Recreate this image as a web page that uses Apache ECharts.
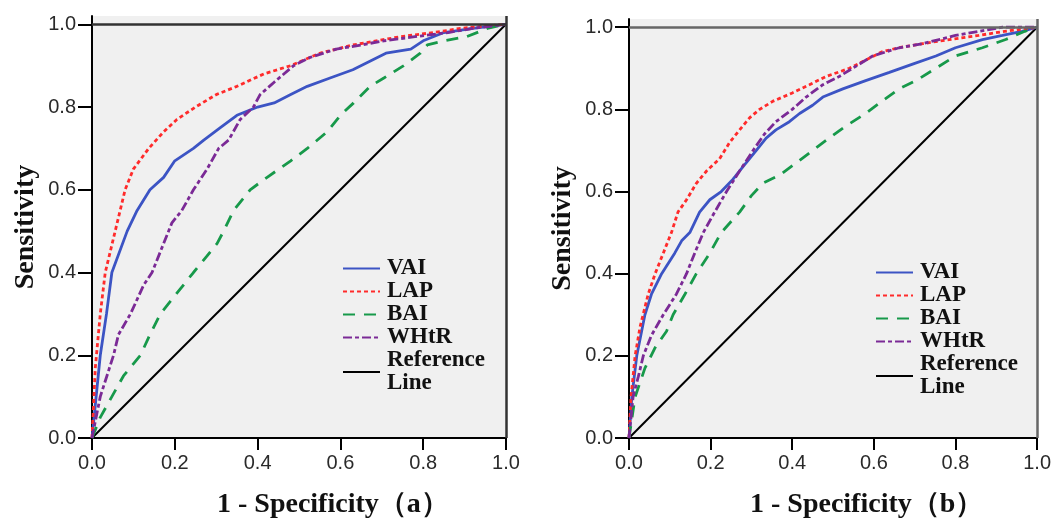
<!DOCTYPE html>
<html>
<head>
<meta charset="utf-8">
<script src="https://cdn.jsdelivr.net/npm/echarts@6/dist/echarts.min.js"></script>
<style>
html,body{margin:0;padding:0;background:#fff;}
#main{width:1054px;height:521px;}
</style>
</head>
<body>
<div id="main"></div>
<script>
// ---- data (1 - specificity, sensitivity) ----
const seriesNames = ['VAI', 'LAP', 'BAI', 'WHtR', 'Reference Line'];
const tickValues = [0, 0.2, 0.4, 0.6, 0.8, 1.0];
const panelTitles = ['1 - Specificity（a）', '1 - Specificity（b）'];
const yTitle = 'Sensitivity';

const vaiA = [[0,0],[0.01,0.1],[0.02,0.2],[0.035,0.3],[0.048,0.4],[0.085,0.5],[0.109,0.55],[0.14,0.6],[0.173,0.63],[0.2,0.67],[0.245,0.7],[0.27,0.72],[0.31,0.75],[0.35,0.78],[0.4,0.8],[0.44,0.81],[0.48,0.83],[0.52,0.85],[0.575,0.87],[0.63,0.89],[0.67,0.91],[0.71,0.93],[0.77,0.94],[0.8,0.96],[0.85,0.98],[0.92,0.99],[1,1]];
const lapA = [[0,0],[0.008,0.17],[0.02,0.3],[0.032,0.4],[0.056,0.5],[0.08,0.6],[0.1,0.65],[0.137,0.7],[0.173,0.74],[0.205,0.77],[0.25,0.8],[0.3,0.83],[0.35,0.85],[0.415,0.88],[0.48,0.9],[0.55,0.93],[0.63,0.95],[0.745,0.97],[0.825,0.98],[0.89,0.99],[1,1]];
const baiA = [[0,0],[0.02,0.05],[0.048,0.1],[0.076,0.15],[0.117,0.2],[0.14,0.25],[0.165,0.3],[0.205,0.35],[0.245,0.4],[0.278,0.44],[0.302,0.47],[0.318,0.5],[0.342,0.55],[0.382,0.6],[0.423,0.63],[0.48,0.67],[0.52,0.7],[0.568,0.74],[0.6,0.78],[0.632,0.81],[0.672,0.85],[0.705,0.87],[0.753,0.9],[0.793,0.93],[0.81,0.95],[0.85,0.96],[0.905,0.97],[0.955,0.99],[1,1]];
const whtrA = [[0,0],[0.02,0.1],[0.052,0.2],[0.064,0.25],[0.093,0.3],[0.125,0.37],[0.145,0.4],[0.165,0.45],[0.193,0.52],[0.217,0.55],[0.245,0.6],[0.278,0.65],[0.306,0.7],[0.33,0.72],[0.358,0.77],[0.39,0.8],[0.406,0.83],[0.44,0.86],[0.487,0.9],[0.527,0.92],[0.59,0.94],[0.65,0.95],[0.705,0.96],[0.78,0.97],[0.86,0.98],[0.92,0.99],[1,1]];

const vaiB = [[0,0],[0.007,0.1],[0.019,0.2],[0.039,0.3],[0.055,0.35],[0.08,0.4],[0.112,0.45],[0.129,0.48],[0.149,0.5],[0.173,0.55],[0.198,0.58],[0.226,0.6],[0.255,0.63],[0.279,0.66],[0.312,0.7],[0.336,0.73],[0.36,0.75],[0.393,0.77],[0.418,0.79],[0.45,0.81],[0.475,0.83],[0.524,0.85],[0.58,0.87],[0.638,0.89],[0.695,0.91],[0.752,0.93],[0.8,0.95],[0.866,0.97],[0.915,0.98],[0.963,0.99],[1,1]];
const lapB = [[0,0],[0.005,0.1],[0.015,0.2],[0.027,0.27],[0.047,0.35],[0.064,0.4],[0.084,0.45],[0.104,0.5],[0.12,0.55],[0.141,0.58],[0.165,0.62],[0.19,0.65],[0.222,0.68],[0.247,0.72],[0.271,0.75],[0.296,0.78],[0.32,0.8],[0.353,0.82],[0.4,0.84],[0.442,0.86],[0.483,0.88],[0.54,0.9],[0.58,0.92],[0.62,0.94],[0.66,0.95],[0.72,0.96],[0.785,0.97],[0.857,0.98],[0.92,0.99],[1,1]];
const baiB = [[0,0],[0.015,0.1],[0.039,0.17],[0.064,0.22],[0.092,0.26],[0.108,0.3],[0.137,0.35],[0.165,0.4],[0.198,0.45],[0.226,0.5],[0.271,0.55],[0.3,0.59],[0.328,0.62],[0.369,0.64],[0.41,0.67],[0.45,0.7],[0.49,0.73],[0.532,0.76],[0.58,0.79],[0.62,0.82],[0.662,0.85],[0.703,0.87],[0.752,0.9],[0.8,0.93],[0.866,0.95],[0.923,0.97],[0.97,0.99],[1,1]];
const whtrB = [[0,0],[0.01,0.1],[0.023,0.15],[0.035,0.2],[0.055,0.25],[0.084,0.3],[0.116,0.35],[0.141,0.4],[0.161,0.45],[0.182,0.5],[0.21,0.55],[0.239,0.6],[0.271,0.65],[0.304,0.7],[0.332,0.74],[0.36,0.77],[0.4,0.8],[0.434,0.83],[0.475,0.86],[0.515,0.88],[0.548,0.9],[0.597,0.93],[0.662,0.95],[0.72,0.96],[0.76,0.97],[0.8,0.98],[0.857,0.99],[0.915,1.0],[1,1]];

const refLine = [[0,0],[1,1]];

// ---- styles ----
const styles = {
  'VAI': {color:'#3c54c4', width:2.8, type:'solid'},
  'LAP': {color:'#ff2b2b', width:2.8, type:[4,3]},
  'BAI': {color:'#17994a', width:2.8, type:[12,9]},
  'WHtR': {color:'#7b2a96', width:2.8, type:[9,3,4,3]},
  'Reference Line': {color:'#000000', width:2, type:'solid'}
};

const panelData = [
  {VAI: vaiA, LAP: lapA, BAI: baiA, WHtR: whtrA, 'Reference Line': refLine},
  {VAI: vaiB, LAP: lapB, BAI: baiB, WHtR: whtrB, 'Reference Line': refLine}
];

const chart = echarts.init(document.getElementById('main'), null, {renderer:'canvas'});

const tickFont = {fontFamily:'Liberation Sans', fontSize:20, color:'#2a2a2a'};
const serifBold = {fontFamily:'Liberation Serif', fontWeight:'bold', color:'#111'};

const grids = [
  {left:92, top:16, width:414, height:422},
  {left:629, top:19, width:410, height:419}
];

const xAxes = [], yAxes = [], series = [], legends = [], titles = [];
const legendPos = [{left:342, top:257}, {left:875, top:261}];
const titlePos = [{left:217, top:491}, {left:750, top:491}];

grids.forEach((g, i) => {
  g.show = true;
  g.backgroundColor = '#f0f0f0';
  g.borderWidth = 0;
  g.containLabel = false;
  xAxes.push({
    type:'value', gridIndex:i, min:0, max:1, interval:0.2,
    axisLine:{show:true, onZero:false, lineStyle:{color:'#000', width:2}},
    axisTick:{show:true, length:12, lineStyle:{color:'#000', width:2}},
    axisLabel:{...tickFont, margin:15, formatter: v => v.toFixed(1)},
    splitLine:{show:false}
  });
  yAxes.push({
    type:'value', gridIndex:i, min:0, max:1.02,
    name: yTitle, nameLocation:'middle', nameGap:52,
    nameTextStyle:{...serifBold, fontSize:28},
    axisLine:{show:true, onZero:false, lineStyle:{color:'#000', width:2}},
    axisTick:{show:true, length:14, customValues: tickValues, lineStyle:{color:'#000', width:2}},
    axisLabel:{...tickFont, margin:16, customValues: tickValues, formatter: v => v.toFixed(1)},
    splitLine:{show:false}
  });
  seriesNames.forEach(name => {
    const st = styles[name];
    const s = {
      name, type:'line', xAxisIndex:i, yAxisIndex:i,
      data: panelData[i][name],
      symbol:'none', showSymbol:false, smooth:false, animation:false,
      lineStyle:{color:st.color, width:st.width, type:st.type},
      itemStyle:{color:st.color},
      z: name === 'Reference Line' ? 1 : 3
    };
    if (name === 'Reference Line') {
      s.markLine = {
        silent:true, symbol:'none', animation:false,
        label:{show:false},
        lineStyle:{color:i === 0 ? '#333' : '#666', width:2.5, type:'solid'},
        data:[{yAxis:1}, {xAxis:1}]
      };
    }
    series.push(s);
  });
  legends.push({
    left: legendPos[i].left, top: legendPos[i].top,
    orient:'vertical', itemGap:0, itemWidth:37, itemHeight:14,
    padding:0, selectedMode:false,
    data: seriesNames,
    itemStyle:{opacity:0, borderWidth:0},
    formatter: n => n === 'Reference Line' ? 'Reference\nLine' : n,
    textStyle:{...serifBold, fontSize:23, lineHeight:23, padding:[0,0,0,2]}
  });
  titles.push({
    text: panelTitles[i], left: titlePos[i].left, top: titlePos[i].top, padding:0,
    textStyle:{...serifBold, fontSize:28}
  });
});

chart.setOption({
  animation:false,
  backgroundColor:'#fff',
  title: titles,
  grid: grids,
  xAxis: xAxes,
  yAxis: yAxes,
  legend: legends,
  series
});
</script>
</body>
</html>
